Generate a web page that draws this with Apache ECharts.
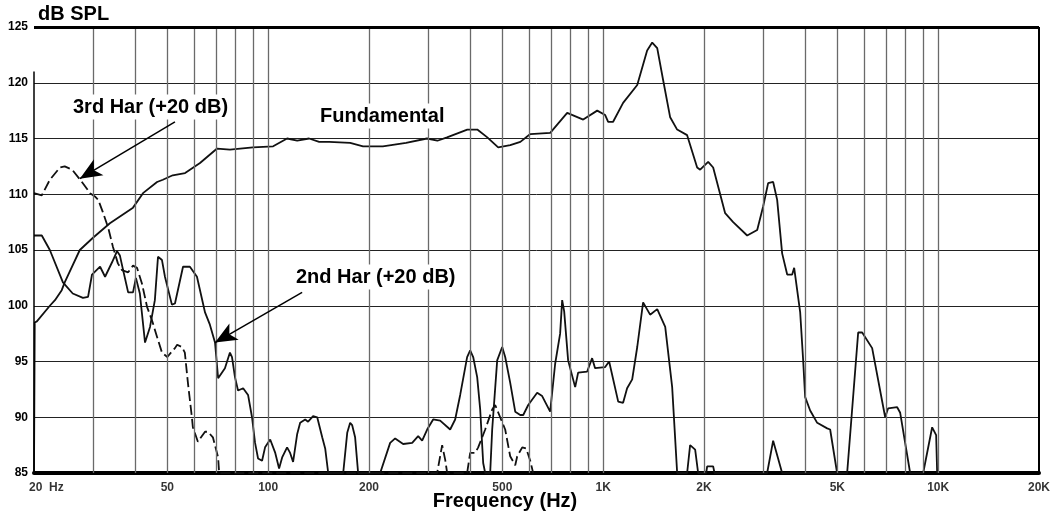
<!DOCTYPE html>
<html>
<head>
<meta charset="utf-8">
<script src="https://cdn.jsdelivr.net/npm/echarts@6/dist/echarts.min.js"></script>
<style>
html,body{margin:0;padding:0;background:#fff;}
#chart{width:1052px;height:513px;}
</style>
</head>
<body>
<div id="chart"></div>
<script>
// ---- data (frequency Hz, dB SPL) ----
const tickFreqs = [20, 50, 100, 200, 500, 1000, 2000, 5000, 10000, 20000];
const tickLabels = ['20  Hz', '50', '100', '200', '500', '1K', '2K', '5K', '10K', '20K'];
const gridFreqs = [30, 40, 50, 60, 70, 80, 90, 100, 200, 300, 400, 500, 600, 700, 800, 900,
  1000, 2000, 3000, 4000, 5000, 6000, 7000, 8000, 9000, 10000];

const fundamental = [
  [20, 85], [20.1, 98.5], [20.4, 98.6], [22.3, 100.0], [23.1, 100.5], [24.2, 101.4], [24.7, 102.1],
  [27.4, 105.0], [30.0, 106.1], [33.7, 107.4], [39.5, 108.8], [42.3, 110.1], [46.6, 111.1],
  [48.5, 111.3], [51.9, 111.7], [56.5, 111.9], [62.6, 112.8], [70.4, 114.1], [76.9, 114.0],
  [90.1, 114.2], [103.5, 114.3], [113.9, 115.0], [122.1, 114.8], [132.5, 115.0], [142, 114.7],
  [152, 114.7], [175.7, 114.6], [192, 114.3], [220, 114.3], [258, 114.6], [298, 115.0],
  [320, 114.8], [342, 115.1], [393, 115.8], [421, 115.8], [451, 115.1], [486, 114.2],
  [528, 114.4], [566, 114.7], [606, 115.4], [695, 115.5], [781, 117.3], [872, 116.7],
  [960, 117.5], [1014, 117.1], [1035, 116.5], [1071, 116.5], [1147, 118.2], [1264, 119.8],
  [1353, 122.9], [1401, 123.6], [1450, 123.1], [1511, 120.2], [1585, 116.9], [1663, 115.8],
  [1781, 115.3], [1908, 112.4], [1948, 112.2], [2058, 112.9], [2130, 112.4], [2313, 108.3],
  [2444, 107.5], [2691, 106.3], [2883, 106.8], [3003, 108.9], [3108, 111.0], [3217, 111.1],
  [3307, 109.5], [3422, 104.7], [3543, 102.8], [3667, 102.8], [3717, 103.4], [3874, 99.4],
  [3954, 95.1], [4009, 91.8], [4149, 90.6], [4354, 89.5], [4664, 89.0], [4760, 88.9],
  [4993, 85.0]
];

const har2 = [
  [20, 106.3], [21.1, 106.3], [22.3, 105.0], [24.4, 102.1], [26.1, 101.1], [28.0, 100.7],
  [29.0, 100.8], [29.8, 102.8], [31.5, 103.5], [32.6, 102.6], [34.2, 103.9], [35.4, 104.9],
  [36.1, 104.5], [36.9, 103.2], [38.2, 101.2], [39.5, 101.2], [40.3, 102.5], [41.4, 101.1],
  [42.9, 96.7], [44.4, 98.1], [45.9, 100.5], [46.9, 104.4], [48.2, 104.1], [49.2, 102.6],
  [51.6, 100.1], [52.7, 100.2], [55.7, 103.5], [58.4, 103.5], [61.3, 102.6], [64.8, 99.4],
  [67.0, 98.3], [69.4, 96.7], [70.9, 93.5], [71.8, 93.6], [74.3, 94.4], [76.9, 95.8],
  [78.0, 95.4], [79.6, 93.6], [81.3, 92.4], [84.2, 92.6], [87.1, 92.0], [89.5, 90.0],
  [91.4, 87.7], [93.3, 86.3], [95.9, 86.1], [97.9, 87.3], [101.4, 88.0], [105, 86.8],
  [107.8, 85.4], [110.1, 86.4], [113.9, 87.3], [116.3, 86.8], [118.7, 86.0], [122.1, 88.5],
  [124.6, 89.5], [129, 89.8], [131.6, 89.6], [136.2, 90.1], [140.1, 90.0], [145, 88.2],
  [148, 87.2], [151.1, 85], [167.5, 85], [172.2, 88.6], [175.7, 89.5], [178.1, 89.3],
  [181.8, 88.2], [185.6, 85], [216, 85], [231.3, 87.7], [239.4, 88.1], [252.9, 87.6],
  [269.1, 87.7], [280.4, 88.3], [288.2, 87.9], [298.3, 88.9], [310.8, 89.8], [326.2, 89.7],
  [349.4, 88.9], [361.6, 89.8], [374.3, 92.0], [392.6, 95.4], [400.9, 96.0], [409.3, 95.4],
  [420.7, 93.6], [429.5, 90.7], [438.4, 85.9], [444.5, 85], [460, 85], [466.4, 88.9],
  [482.7, 95.1], [499.6, 96.3], [510, 95.4], [527.8, 93.1], [546.4, 90.5], [565.5, 90.2],
  [577.4, 90.2], [597.5, 91.1], [635.3, 92.2], [657.5, 91.9], [694.7, 90.5], [719, 94.8],
  [744, 97.5], [754.5, 100.5], [765, 99.5], [786, 95.1], [825, 92.7], [842, 94.0],
  [896, 94.1], [927, 95.3], [946, 94.4], [1014, 94.5], [1042, 95.0], [1109, 91.4],
  [1147, 91.3], [1179, 92.6], [1221, 93.4], [1264, 96.3], [1316, 100.3], [1381, 99.2],
  [1450, 99.7], [1532, 98.1], [1607, 92.7], [1663, 85], [1781, 85], [1818, 87.5],
  [1882, 87.1], [1921, 85], [2030, 85], [2044, 85.6], [2130, 85.6], [2150, 85],
  [3087, 85], [3217, 87.9], [3422, 85], [5350, 85], [5771, 97.6], [5932, 97.6],
  [6353, 96.2], [6948, 90.0], [7091, 90.8], [7545, 90.9], [7703, 90.4], [8249, 85],
  [9022, 85], [9596, 89.1], [9863, 88.4], [9931, 85]
];

const har3 = [
  [20, 110.1], [21.1, 109.9], [22.3, 111.3], [23.9, 112.4], [24.7, 112.5], [26.0, 112.2],
  [27.8, 111.1], [29.4, 110.1], [30.4, 109.8], [31.1, 109.5], [32.1, 108.4], [33.3, 107.0],
  [34.4, 105.3], [35.6, 103.8], [36.6, 103.2], [38.2, 103.0], [39.5, 103.6], [40.6, 103.4],
  [42.0, 102.0], [43.5, 99.9], [45.0, 98.7], [46.6, 97.2], [48.2, 95.8], [50, 95.4],
  [51.6, 95.9], [52.7, 96.2], [53.5, 96.5], [55.3, 96.3], [56.4, 95.8], [57.6, 93.1],
  [59.2, 90.0], [59.6, 89.1], [61.7, 87.8], [64.8, 88.7], [66.1, 88.7], [68.4, 88.2],
  [70.9, 86.4], [71.4, 85], [319.5, 85], [330.7, 87.5], [337.6, 86.2], [342.3, 85],
  [392.6, 85], [400.9, 86.8], [414.9, 86.8], [423.6, 87.3], [435.4, 88.2], [444.5, 88.9],
  [466.4, 90.7], [476.1, 91.1], [492.7, 90.0], [510, 88.9], [527.8, 86.5], [546.4, 85.7],
  [554, 86.5], [573.4, 87.3], [589.3, 87.2], [605.8, 86.1], [618.1, 85]
];

// ---- chart ----
const FONT = '"Liberation Sans", Arial, Helvetica, sans-serif';
const chart = echarts.init(document.getElementById('chart'), null, {renderer: 'canvas'});

const gridLines = gridFreqs.map(f => ({xAxis: f}));
const tickData = tickFreqs.map((f, i) => {
  const item = {value: [f, 85], name: tickLabels[i]};
  if (i === 0) item.label = {align: 'left', offset: [-5, 0]};
  return item;
});

const traceStyle = {color: '#111', width: 1.8};
function note(x, y, text) {
  return {type: 'text', z: 10, style: {x: x, y: y, text: text, font: 'bold 20px ' + FONT, fill: '#000',
    verticalAlign: 'middle', backgroundColor: '#fff', padding: [3, 3, 2, 3]}};
}

chart.setOption({
  animation: false,
  backgroundColor: '#fff',
  grid: {left: 34, right: 13, top: 27, bottom: 40, containLabel: false},
  xAxis: {
    type: 'log', logBase: 10, min: 20, max: 20000,
    axisLine: {show: true, lineStyle: {color: '#000', width: 4}},
    axisTick: {show: false}, axisLabel: {show: false}, splitLine: {show: false}, minorSplitLine: {show: false}
  },
  yAxis: {
    type: 'value', min: 85, max: 125, interval: 5,
    axisLine: {show: false}, axisTick: {show: false},
    axisLabel: {color: '#000', fontFamily: FONT, fontWeight: 'bold', fontSize: 12, margin: 6},
    splitLine: {show: true, lineStyle: {color: '#222', width: 1}}
  },
  graphic: [
    {type: 'text', style: {x: 38, y: 14, text: 'dB SPL', font: 'bold 20px ' + FONT, fill: '#000', verticalAlign: 'middle'}},
    note(70, 107, '3rd Har (+20 dB)'),
    note(317, 116, 'Fundamental'),
    note(293, 277, '2nd Har (+20 dB)'),
    {type: 'text', style: {x: 505, y: 501, text: 'Frequency (Hz)', font: 'bold 20px ' + FONT, fill: '#000', align: 'center', verticalAlign: 'middle'}}
  ],
  series: [
    {
      type: 'line', name: 'grid', data: [], z: 1, silent: true,
      markLine: {
        silent: true, symbol: 'none', animation: false, label: {show: false},
        lineStyle: {color: '#6a6a6a', width: 1.3, type: 'solid'},
        data: gridLines.concat([
          {xAxis: 20000, lineStyle: {color: '#000', width: 2}},
          {yAxis: 125, lineStyle: {color: '#000', width: 3}},
          [{coord: [20, 85]}, {coord: [20, 121], lineStyle: {color: '#000', width: 1.5}}]
        ])
      }
    },
    {
      type: 'line', name: 'Fundamental', data: fundamental, z: 3,
      showSymbol: false, symbol: 'none', lineStyle: traceStyle, clip: true
    },
    {
      type: 'line', name: '2nd Har', data: har2, z: 3,
      showSymbol: false, symbol: 'none', lineStyle: traceStyle, clip: true,
      markLine: {
        silent: true, symbol: ['none', 'arrow'], symbolSize: [14, 22], label: {show: false},
        lineStyle: {color: '#000', width: 1.5, type: 'solid'},
        data: [[{coord: [126.3, 101.2]}, {coord: [69.4, 96.7]}]]
      }
    },
    {
      type: 'line', name: '3rd Har', data: har3, z: 3,
      showSymbol: false, symbol: 'none', lineStyle: {color: '#111', width: 1.8, type: [10, 4]}, clip: true,
      markLine: {
        silent: true, symbol: ['none', 'arrow'], symbolSize: [14, 22], label: {show: false},
        lineStyle: {color: '#000', width: 1.5, type: 'solid'},
        data: [[{coord: [52.7, 116.5]}, {coord: [27.4, 111.4]}]]
      }
    },
    {
      type: 'scatter', name: 'ticks', data: tickData, z: 4, clip: false, silent: true,
      symbolSize: 1, itemStyle: {color: 'rgba(0,0,0,0)'},
      label: {
        show: true, position: 'bottom', distance: 8, color: '#000',
        fontFamily: FONT, fontWeight: 'bold', fontSize: 12,
        formatter: p => p.name
      }
    }
  ]
});
</script>
</body>
</html>
